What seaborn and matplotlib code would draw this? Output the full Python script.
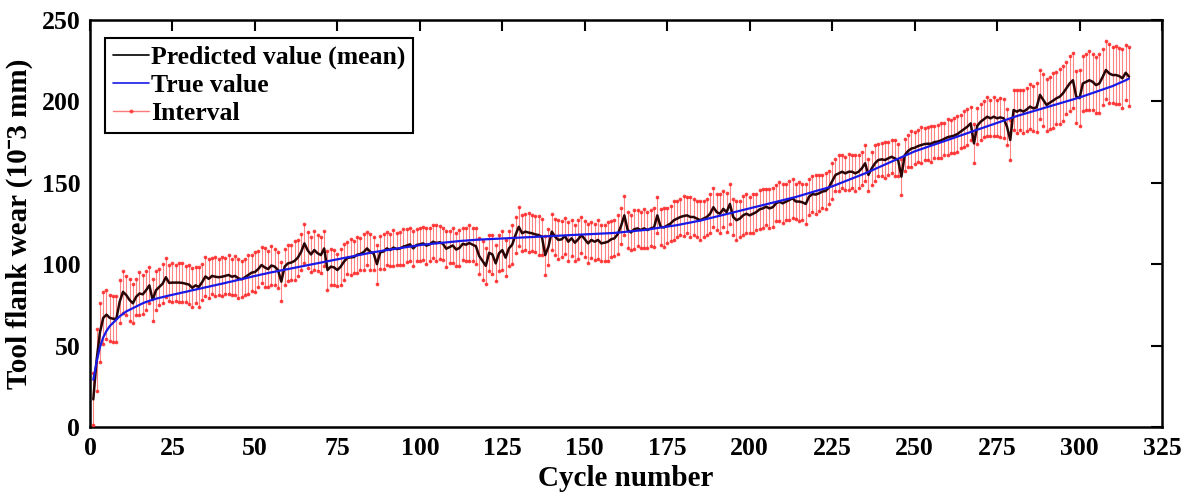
import matplotlib
matplotlib.use("Agg")
import numpy as np
import pandas as pd
import matplotlib.pyplot as plt
import seaborn as sns
from matplotlib.lines import Line2D

# Cycle index of each measurement
cycles = list(range(1, 316))

# Measured tool flank wear (10^-3 mm)
true_wear = [
    29, 40, 49, 55, 59, 62, 64, 66, 68, 69.5,
    71, 72, 73, 74, 75, 76, 76.8, 77.5, 78.2, 78.8,
    79.3, 79.8, 80.3, 80.8, 81.2, 81.7, 82.1, 82.6, 83.0, 83.5,
    84.0, 84.4, 84.9, 85.3, 85.8, 86.2, 86.7, 87.1, 87.6, 88.0,
    88.5, 89.0, 89.4, 89.9, 90.4, 90.9, 91.3, 91.8, 92.3, 92.8,
    93.2, 93.7, 94.1, 94.6, 95.0, 95.4, 95.8, 96.2, 96.6, 97.0,
    97.4, 97.8, 98.2, 98.6, 99.0, 99.4, 99.8, 100.2, 100.6, 101.0,
    101.4, 101.8, 102.2, 102.6, 103.0, 103.4, 103.8, 104.2, 104.6, 105.0,
    105.4, 105.8, 106.2, 106.6, 107.0, 107.4, 107.7, 108.0, 108.4, 108.7,
    109.0, 109.3, 109.6, 109.9, 110.2, 110.5, 110.8, 111.1, 111.4, 111.7,
    112.0, 112.2, 112.4, 112.6, 112.8, 113.0, 113.2, 113.4, 113.6, 113.8,
    114.0, 114.2, 114.4, 114.5, 114.7, 114.8, 115.0, 115.1, 115.2, 115.3,
    115.4, 115.5, 115.6, 115.7, 115.8, 115.9, 116.0, 116.1, 116.2, 116.3,
    116.4, 116.5, 116.6, 116.7, 116.8, 116.9, 117.0, 117.1, 117.2, 117.3,
    117.4, 117.5, 117.6, 117.7, 117.8, 117.9, 118.0, 118.1, 118.2, 118.3,
    118.4, 118.5, 118.6, 118.7, 118.8, 118.9, 119.0, 119.1, 119.2, 119.4,
    119.6, 119.8, 120.0, 120.2, 120.4, 120.6, 120.8, 121.0, 121.3, 121.6,
    121.9, 122.2, 122.5, 122.8, 123.1, 123.4, 123.7, 124.0, 124.4, 124.8,
    125.2, 125.6, 126.0, 126.4, 126.8, 127.3, 127.8, 128.3, 128.8, 129.3,
    129.8, 130.3, 130.8, 131.3, 131.8, 132.3, 132.8, 133.3, 133.8, 134.3,
    134.8, 135.3, 135.8, 136.3, 136.8, 137.3, 137.8, 138.3, 138.8, 139.3,
    139.8, 140.3, 140.8, 141.3, 141.9, 142.5, 143.1, 143.7, 144.3, 144.9,
    145.5, 146.0, 146.6, 147.2, 147.8, 148.6, 149.4, 150.2, 151.0, 151.8,
    152.6, 153.4, 154.2, 155.0, 155.8, 156.7, 157.6, 158.5, 159.4, 160.3,
    161.2, 162.1, 163.0, 163.9, 164.8, 165.7, 166.6, 167.5, 168.4, 169.3,
    170.0, 170.7, 171.4, 172.1, 172.8, 173.5, 174.2, 174.9, 175.6, 176.3,
    177.0, 177.7, 178.4, 179.1, 179.8, 180.5, 181.2, 181.9, 182.6, 183.3,
    184.0, 184.7, 185.4, 186.1, 186.8, 187.5, 188.2, 188.9, 189.6, 190.3,
    191.0, 191.6, 192.2, 192.8, 193.4, 194.0, 194.6, 195.2, 195.8, 196.4,
    197.0, 197.6, 198.2, 198.8, 199.4, 200.0, 200.6, 201.2, 201.8, 202.4,
    203.1, 203.8, 204.5, 205.2, 205.9, 206.6, 207.3, 208.0, 208.7, 209.4,
    210.3, 211.2, 212.1, 213.0, 214.0,
]

# Predicted wear (mean of the predictive distribution)
pred_mean = [
    17, 41, 58, 67, 69, 67, 66.5, 66.5, 77, 83,
    81, 78, 76, 80, 82, 81.5, 84, 87, 78, 84,
    86, 88, 92, 88.5, 88.7, 88.7, 88.7, 88.5, 88, 87.5,
    85.5, 87, 86, 89, 92.5, 91, 92.8, 92.3, 92, 92.3,
    92.8, 93.4, 92.3, 92.8, 91.3, 90.7, 92, 93.4, 94.8, 95.2,
    97, 99.5, 98, 97, 99.2, 98.5, 96.4, 89.3, 98.5, 100.5,
    101, 102, 104, 107.5, 112.8, 108.5, 106, 108.7, 106.7, 105.6,
    109.7, 96.4, 98.5, 98, 96.4, 98.5, 101.6, 103.8, 104.2, 104.4,
    105.8, 106.3, 107.5, 109.7, 107.5, 106.5, 100, 107.3, 107.8, 109.7,
    108.7, 110.2, 109.3, 109.7, 110.8, 111.4, 112.2, 109.7, 111.8, 112.2,
    112.8, 111.4, 112.2, 113.8, 113, 113.5, 112.5, 109.5, 110.5, 111.5,
    109, 110, 112.5, 112, 113, 112, 111, 105, 102, 99,
    107, 106, 100.5, 106.7, 108.7, 104, 109.7, 112, 118, 123,
    119, 120, 119.4, 119, 118.3, 117.9, 116.9, 105.6, 110.8, 120,
    116.9, 114.9, 115.3, 117.3, 113.8, 115.9, 113.2, 115.3, 117.9, 115.3,
    112.8, 114.9, 113.8, 114.9, 112.8, 113.2, 113.8, 115.3, 115.9, 118.5,
    123.5, 130, 121, 119.5, 121.5, 122, 121, 122, 121, 122,
    122.6, 130, 123, 122.6, 123.8, 125, 127, 128, 129, 129.6,
    130, 129, 129, 128, 127, 128, 129, 131, 135, 132,
    131, 134, 132, 137, 129, 127, 128, 130, 131, 130,
    131, 132, 133.7, 134.3, 135.3, 134.3, 135, 137.4, 138.4, 137.4,
    138.4, 139.4, 140.5, 138.5, 138.5, 138, 137, 141.5, 143, 142.8,
    143.5, 144.6, 145, 147, 151, 154.8, 155.8, 156.8, 155.8, 156.8,
    156.8, 155.8, 156.8, 158.9, 162, 154.8, 158.9, 162, 164, 164.4,
    164, 165, 166, 165, 164, 153.8, 167, 169.5, 171, 171.5,
    172.5, 173.2, 173.8, 174, 174, 175, 175.3, 176, 177, 178,
    178.5, 179, 180, 181.5, 183, 184.5, 186.5, 174.2, 185, 187.5,
    189, 190.6, 189.6, 190.6, 189.6, 190.2, 189.6, 184.5, 176.3, 194.7,
    193.7, 194.7, 193.7, 195.1, 196.8, 195.7, 196.4, 204, 200.9, 197.8,
    199.2, 200.5, 201.9, 202.9, 205, 208, 211, 213, 202.9, 202,
    211, 212, 213, 212, 210, 211, 215, 219.3, 217.2, 216.2,
    216.2, 215.6, 214.2, 217.6, 215.2,
]

# Half width of the prediction interval
half_width = [
    16, 19, 18, 16, 15, 14, 14, 14, 13, 13,
    12, 13, 12, 11, 13, 12, 12, 11, 13, 12,
    11, 12, 12, 11, 12, 11, 12, 12, 11, 12,
    12, 11, 12, 11, 12, 12, 11, 12, 11, 12,
    11, 12, 11, 12, 12, 11, 11, 12, 11, 12,
    11, 11, 12, 11, 12, 11, 11, 12, 11, 11,
    11, 12, 11, 11, 12, 11, 11, 12, 11, 11,
    11, 12, 11, 11, 10, 11, 11, 10, 11, 10,
    11, 10, 11, 10, 11, 10, 12, 10, 11, 10,
    10, 11, 10, 10, 11, 10, 10, 11, 10, 10,
    10, 11, 10, 10, 11, 10, 10, 11, 10, 11,
    10, 11, 10, 10, 11, 10, 11, 11, 12, 11,
    11, 12, 11, 11, 12, 11, 11, 12, 11, 12,
    11, 11, 12, 11, 11, 12, 11, 12, 11, 11,
    11, 12, 11, 11, 12, 11, 11, 12, 11, 11,
    12, 11, 11, 12, 11, 11, 12, 11, 11, 12,
    11, 12, 11, 11, 12, 11, 11, 12, 11, 11,
    12, 11, 11, 12, 11, 11, 12, 11, 11, 12,
    11, 12, 11, 11, 12, 11, 11, 12, 12, 11,
    12, 11, 12, 12, 11, 12, 11, 12, 12, 11,
    12, 11, 12, 12, 11, 12, 12, 11, 12, 12,
    11, 12, 12, 11, 12, 11, 12, 11, 11, 12,
    11, 10, 11, 10, 11, 10, 11, 10, 10, 11,
    10, 11, 10, 10, 11, 10, 10, 11, 10, 10,
    11, 10, 10, 11, 10, 11, 10, 10, 11, 10,
    10, 11, 10, 10, 11, 10, 10, 11, 10, 11,
    10, 11, 11, 10, 11, 11, 10, 12, 11, 11,
    11, 12, 11, 12, 11, 12, 12, 11, 12, 12,
    13, 12, 13, 13, 14, 14, 15, 15, 16, 16,
    16, 17, 16, 17, 17, 16, 17, 17, 16, 17,
    17, 17, 18, 17, 17, 18, 17, 18, 18, 17,
    18, 17, 18, 17, 18,
]

x_ticks = [0, 25, 50, 75, 100, 125, 150, 175, 200, 225, 250, 275, 300, 325]
y_ticks = [0, 50, 100, 150, 200, 250]

df = pd.DataFrame({
    "cycle": cycles,
    "true": true_wear,
    "pred": pred_mean,
    "hw": half_width,
})
df["lower"] = df["pred"] - df["hw"]
df["upper"] = df["pred"] + df["hw"]

sns.set_theme(style="white")
plt.rcParams["font.family"] = ["Liberation Serif", "DejaVu Serif"]
plt.rcParams["font.weight"] = "bold"
plt.rcParams["text.color"] = "black"
plt.rcParams["axes.labelcolor"] = "black"
plt.rcParams["xtick.color"] = "black"
plt.rcParams["ytick.color"] = "black"

fig = plt.figure(figsize=(11.89, 5.04), dpi=100)
ax = fig.add_axes([90 / 1189, 1 - 427 / 504, 1072 / 1189, 407 / 504])

red = "#ff2020"

# prediction interval: vertical segment plus a dot at each end
ax.vlines(df["cycle"], df["lower"], df["upper"], color=red, alpha=0.55,
          linewidth=0.8, zorder=2)
ends = pd.DataFrame({
    "cycle": list(df["cycle"]) * 2,
    "value": list(df["lower"]) + list(df["upper"]),
})
sns.scatterplot(data=ends, x="cycle", y="value", ax=ax, color=red, s=7,
                linewidth=0, alpha=0.85, zorder=3, legend=False)

sns.lineplot(data=df, x="cycle", y="pred", ax=ax, color="#2a0505",
             linewidth=1.8, zorder=4, legend=False)
sns.lineplot(data=df, x="cycle", y="true", ax=ax, color="#1a1ae6",
             linewidth=1.6, zorder=5, legend=False)

ax.set_xlim(0, 325)
ax.set_ylim(0, 250)
ax.set_xticks(x_ticks)
ax.set_yticks(y_ticks)
ax.tick_params(direction="in", top=True, right=True, length=8, width=1.5,
               labelsize=18.5, pad=7, colors="black")
for lab in ax.get_xticklabels() + ax.get_yticklabels():
    lab.set_fontweight("bold")
    lab.set_color("black")
for sp in ax.spines.values():
    sp.set_color("black")
    sp.set_linewidth(1.8)

ax.set_xlabel("Cycle number", fontsize=21, fontweight="bold", labelpad=4,
              color="black")
ax.set_ylabel("Tool flank wear (10\u02c93 mm)", fontsize=21,
              fontweight="bold", labelpad=6, color="black")

handles = [
    Line2D([0], [0], color="black", linewidth=1.2),
    Line2D([0], [0], color="#1a1ae6", linewidth=1.2),
    Line2D([0], [0], color=red, alpha=0.6, linewidth=1.0, marker=".",
           markersize=4),
]
labels = ["Predicted value (mean)", "True value", "Interval"]
leg = ax.legend(handles, labels, loc="upper left",
                bbox_to_anchor=(15 / 1072, (427 - 38) / 407),
                borderaxespad=0, frameon=True, fancybox=False,
                edgecolor="black", framealpha=1, fontsize=18.5,
                handlelength=1.4, handletextpad=0.1, labelspacing=0.2,
                borderpad=0.3)
leg.get_frame().set_linewidth(1.5)
for t in leg.get_texts():
    t.set_fontweight("bold")
    t.set_color("black")

fig.savefig("out.png", dpi=100)
